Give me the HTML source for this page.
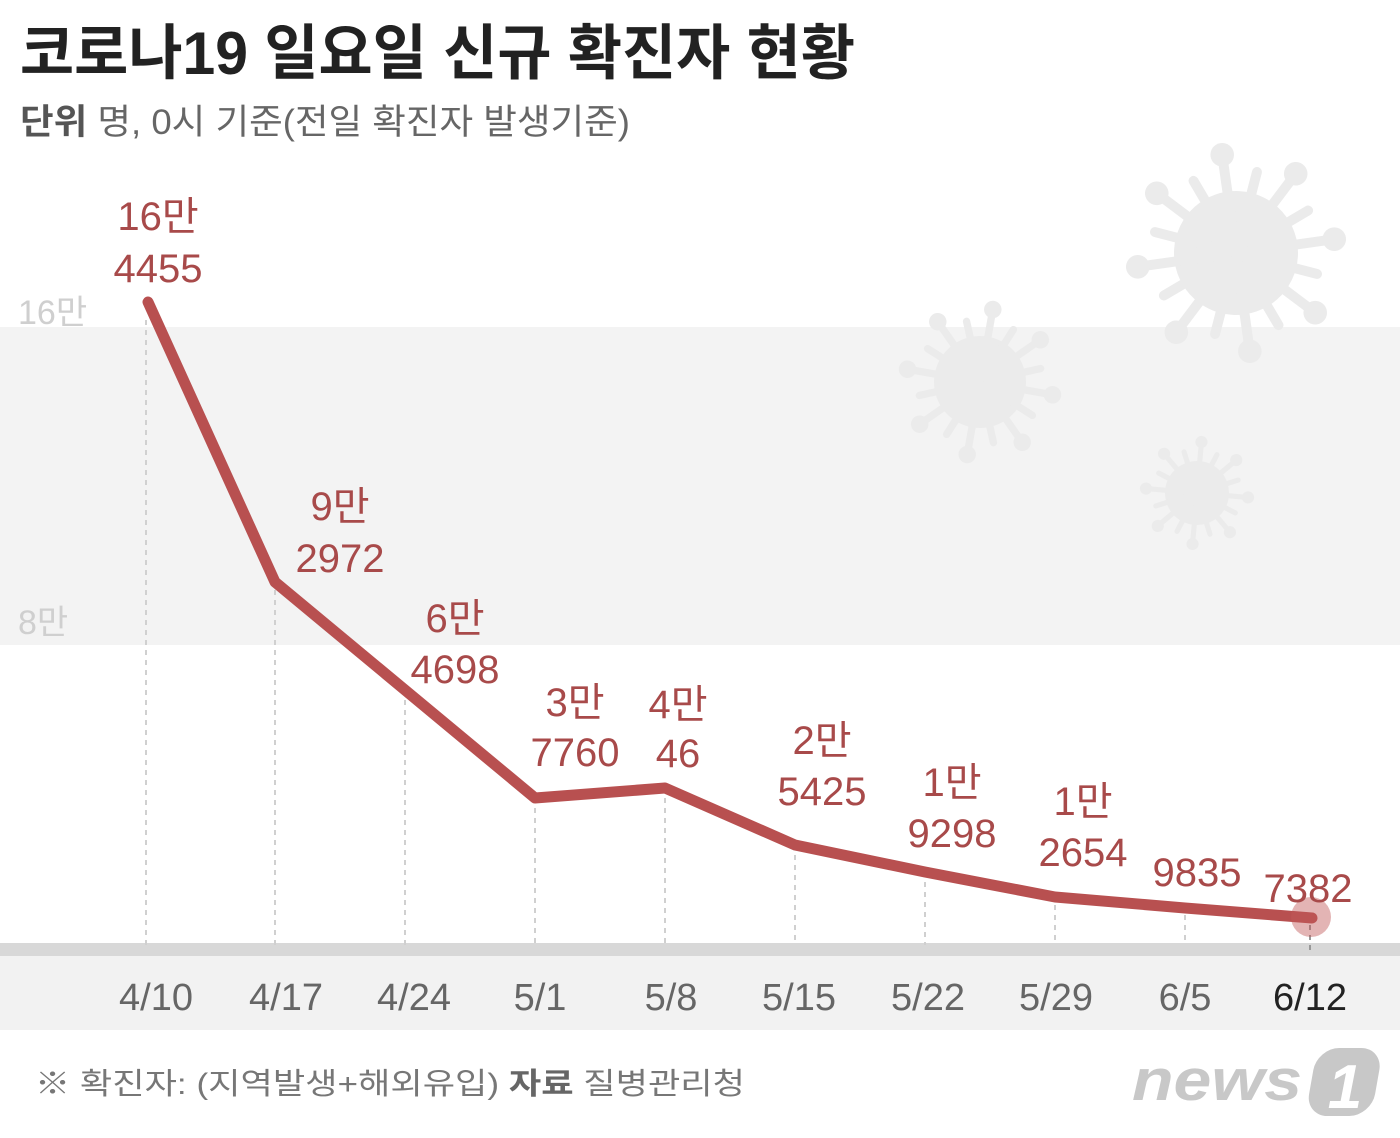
<!DOCTYPE html>
<html><head><meta charset="utf-8"><style>
html,body{margin:0;padding:0;background:#fff;}
svg{display:block;font-family:"Liberation Sans","Noto Sans CJK KR",sans-serif;}
</style></head><body>
<svg width="1400" height="1138" viewBox="0 0 1400 1138" xmlns="http://www.w3.org/2000/svg">
<defs>
<g id="sl"><line x1="0" y1="0" x2="0" y2="-1.55" stroke="#ebebeb" stroke-width="0.16" stroke-linecap="round"/><circle cx="0" cy="-1.6" r="0.19" fill="#ebebeb" stroke="none"/></g>
<g id="ss"><line x1="0" y1="0" x2="0" y2="-1.35" stroke="#ebebeb" stroke-width="0.16" stroke-linecap="round"/></g>
<g id="virus">
<circle r="1" fill="#ebebeb" stroke="none"/>
<use href="#sl" transform="rotate(0)"/><use href="#ss" transform="rotate(22.5)"/>
<use href="#sl" transform="rotate(45)"/><use href="#ss" transform="rotate(67.5)"/>
<use href="#sl" transform="rotate(90)"/><use href="#ss" transform="rotate(112.5)"/>
<use href="#sl" transform="rotate(135)"/><use href="#ss" transform="rotate(157.5)"/>
<use href="#sl" transform="rotate(180)"/><use href="#ss" transform="rotate(202.5)"/>
<use href="#sl" transform="rotate(225)"/><use href="#ss" transform="rotate(247.5)"/>
<use href="#sl" transform="rotate(270)"/><use href="#ss" transform="rotate(292.5)"/>
<use href="#sl" transform="rotate(315)"/><use href="#ss" transform="rotate(337.5)"/>
</g>
</defs>
<rect x="0" y="327" width="1400" height="318" fill="#f3f3f3"/>
<rect x="0" y="943" width="1400" height="13" fill="#d8d8d8"/>
<rect x="0" y="956" width="1400" height="74" fill="#f2f2f2"/>
<use href="#virus" transform="translate(1236,253) scale(62) rotate(-8)"/>
<use href="#virus" transform="translate(980,382) scale(46) rotate(10)"/>
<use href="#virus" transform="translate(1197,493) scale(32) rotate(5)"/>
<text x="20" y="74" font-size="60" font-weight="bold" fill="#222" textLength="835" lengthAdjust="spacingAndGlyphs">코로나19 일요일 신규 확진자 현황</text>
<text x="20" y="134" font-size="35" fill="#666" textLength="610" lengthAdjust="spacingAndGlyphs"><tspan font-weight="bold" fill="#555">단위</tspan> 명, 0시 기준(전일 확진자 발생기준)</text>
<text x="18" y="324" font-size="34" fill="#cfcfcf">16만</text>
<text x="18" y="634" font-size="34" fill="#cfcfcf">8만</text>
<g stroke="#d0d0d0" stroke-width="2" stroke-dasharray="5,5">
<line x1="146" y1="320" x2="146" y2="945"/>
<line x1="275" y1="590" x2="275" y2="945"/>
<line x1="405" y1="700" x2="405" y2="945"/>
<line x1="535" y1="808" x2="535" y2="945"/>
<line x1="665" y1="798" x2="665" y2="945"/>
<line x1="795" y1="855" x2="795" y2="945"/>
<line x1="925" y1="882" x2="925" y2="945"/>
<line x1="1055" y1="905" x2="1055" y2="945"/>
<line x1="1185" y1="915" x2="1185" y2="945"/>
<line x1="1310" y1="925" x2="1310" y2="950" stroke="#999"/>
</g>
<polyline points="148,302 275,582 405,690 535,798 665,788 795,845 925,872 1055,897 1185,908 1312,918" fill="none" stroke="#b85050" stroke-width="11" stroke-linejoin="round" stroke-linecap="round"/>
<circle cx="1311" cy="917" r="20" fill="#c25858" fill-opacity="0.45"/>
<g font-size="40" fill="#a84a4a" text-anchor="middle">
<text x="158" y="230">16만</text><text x="158" y="282">4455</text>
<text x="340" y="520">9만</text><text x="340" y="572">2972</text>
<text x="455" y="632">6만</text><text x="455" y="683">4698</text>
<text x="575" y="716">3만</text><text x="575" y="766">7760</text>
<text x="678" y="718">4만</text><text x="678" y="767">46</text>
<text x="822" y="754">2만</text><text x="822" y="805">5425</text>
<text x="952" y="796">1만</text><text x="952" y="847">9298</text>
<text x="1083" y="815">1만</text><text x="1083" y="866">2654</text>
<text x="1197" y="886">9835</text>
<text x="1308" y="902">7382</text>
</g>
<g font-size="38" fill="#666" text-anchor="middle">
<text x="156" y="1010">4/10</text>
<text x="286" y="1010">4/17</text>
<text x="414" y="1010">4/24</text>
<text x="540" y="1010">5/1</text>
<text x="671" y="1010">5/8</text>
<text x="799" y="1010">5/15</text>
<text x="928" y="1010">5/22</text>
<text x="1056" y="1010">5/29</text>
<text x="1185" y="1010">6/5</text>
<text x="1310" y="1010" fill="#222">6/12</text>
</g>
<text x="35" y="1094" font-size="30" fill="#777" textLength="710" lengthAdjust="spacingAndGlyphs">※ 확진자: (지역발생+해외유입)  <tspan font-weight="bold" fill="#666">자료</tspan>  질병관리청</text>
<text x="1132" y="1100" font-size="58" font-weight="bold" font-style="italic" fill="#c8c8c8" textLength="170" lengthAdjust="spacingAndGlyphs">news</text>
<rect x="1312" y="1048" width="66" height="68" rx="22" fill="#c8c8c8" transform="skewX(-10) translate(190,0)"/>
<text x="1345" y="1108" font-size="62" font-weight="bold" font-style="italic" fill="#fff" text-anchor="middle">1</text>
</svg>
</body></html>
